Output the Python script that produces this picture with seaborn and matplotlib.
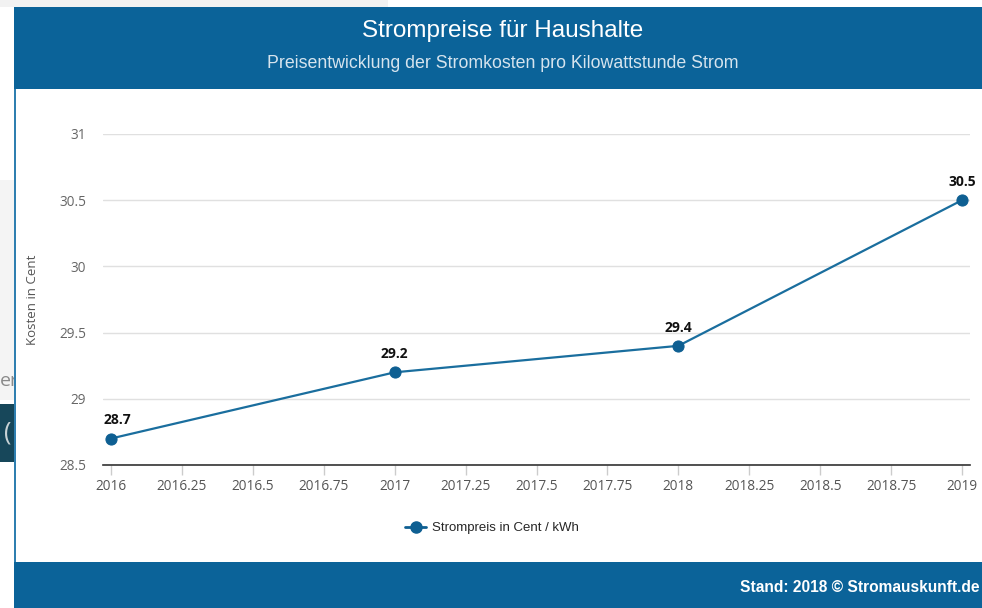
import matplotlib
matplotlib.use("Agg")
import matplotlib.pyplot as plt
import seaborn as sns
import pandas as pd
from matplotlib.patches import Rectangle
from matplotlib.lines import Line2D

years = [2016, 2017, 2018, 2019]
prices = [28.7, 29.2, 29.4, 30.5]
series_name = "Strompreis in Cent / kWh"
x_ticks = [2016, 2016.25, 2016.5, 2016.75, 2017, 2017.25, 2017.5, 2017.75,
           2018, 2018.25, 2018.5, 2018.75, 2019]
x_tick_labels = ["2016", "2016.25", "2016.5", "2016.75", "2017", "2017.25", "2017.5",
                 "2017.75", "2018", "2018.25", "2018.5", "2018.75", "2019"]
y_ticks = [28.5, 29, 29.5, 30, 30.5, 31]
y_tick_labels = ["28.5", "29", "29.5", "30", "30.5", "31"]

df = pd.DataFrame({"Jahr": years, "Preis": prices})

sns.set_theme(style="white")
plt.rcParams['font.family'] = ['Open Sans', 'DejaVu Sans']

W, H = 982, 608
fig = plt.figure(figsize=(W / 100, H / 100), dpi=100)
fig.patch.set_facecolor("white")

def fx(px):
    return px / W

def fy(py):
    return 1 - py / H

header_col = "#0b6399"
line_col = "#1a6e9e"
marker_col = "#0e5f92"

# screenshot remnants on the left
fig.add_artist(Rectangle((0, fy(7)), fx(388), 7 / H, transform=fig.transFigure,
                         facecolor="#f2f2f2", edgecolor="none", zorder=-5))
fig.add_artist(Rectangle((0, fy(400)), fx(14), (400 - 180) / H, transform=fig.transFigure,
                         facecolor="#f4f4f4", edgecolor="none", zorder=-5))
fig.add_artist(Rectangle((0, fy(462)), fx(14), (462 - 404) / H, transform=fig.transFigure,
                         facecolor="#17475a", edgecolor="none", zorder=-5))
fig.text(fx(0), fy(381), "er", fontsize=14, color="#8a8a8a", va="center", ha="left",
         family=["Open Sans", "DejaVu Sans"], zorder=-4)
fig.text(fx(4), fy(433), "(", fontsize=18, color="#c9d3d6", va="center", ha="left",
         family=["Open Sans", "DejaVu Sans"], zorder=-4)

# card
fig.add_artist(Rectangle((fx(14), fy(562)), 1 - fx(14), (562 - 89) / H, transform=fig.transFigure,
                         facecolor="white", edgecolor="none", zorder=-3))
fig.add_artist(Rectangle((fx(14), fy(562)), fx(2), (562 - 89) / H, transform=fig.transFigure,
                         facecolor="#2f7fb0", edgecolor="none", zorder=-2))
# header
fig.add_artist(Rectangle((fx(14), fy(89)), 1 - fx(14), (89 - 7) / H, transform=fig.transFigure,
                         facecolor=header_col, edgecolor="none", zorder=-2))
# footer
fig.add_artist(Rectangle((fx(14), 0), 1 - fx(14), (608 - 562) / H, transform=fig.transFigure,
                         facecolor=header_col, edgecolor="none", zorder=-2))

fig.text(fx(503), fy(31), "Strompreise für Haushalte", fontsize=17.5, color="white",
         ha="center", va="center", family=["Liberation Sans", "DejaVu Sans"])
fig.text(fx(503), fy(63), "Preisentwicklung der Stromkosten pro Kilowattstunde Strom",
         fontsize=12.8, color="#d6e4ee", ha="center", va="center",
         family=["Liberation Sans", "DejaVu Sans"])
fig.text(fx(980), fy(587), "Stand: 2018 © Stromauskunft.de", fontsize=11.2, color="white",
         ha="right", va="center", fontweight="bold", family=["Liberation Sans", "DejaVu Sans"])

ax = fig.add_axes([fx(103), fy(465), fx(970) - fx(103), (465 - 134) / H])
ax.set_facecolor("white")
sns.lineplot(data=df, x="Jahr", y="Preis", ax=ax, color=line_col, linewidth=1.6,
             marker="o", markersize=8, markerfacecolor=marker_col,
             markeredgecolor=marker_col, label=series_name, legend=False)

for i, (xv, yv) in enumerate(zip(years, prices)):
    dx = 4.5 if i == 0 else 0
    ax.annotate(f"{yv:g}", (xv, yv), xytext=(dx, 8), textcoords="offset points",
                ha="center", va="bottom", fontsize=10, fontweight="bold", color="#111111")

span = 3 * 8 / (962 - 111)
ax.set_xlim(2016 - span, 2019 + span)
ax.set_ylim(28.5, 31)
ax.set_xticks(x_ticks)
ax.set_xticklabels(x_tick_labels)
ax.set_yticks(y_ticks)
ax.set_yticklabels(y_tick_labels)
ax.yaxis.grid(True, color="#e0e0e0", linewidth=1)
ax.xaxis.grid(False)
for s in ["top", "right", "left"]:
    ax.spines[s].set_visible(False)
ax.spines["bottom"].set_color("#333333")
ax.spines["bottom"].set_linewidth(1.2)
ax.tick_params(axis="x", bottom=True, length=7, width=1, color="#cccccc", pad=3,
               labelsize=9.8, labelcolor="#555555")
ax.tick_params(axis="y", left=False, pad=6, labelsize=9.8, labelcolor="#666666")
ax.set_xlabel("")
ax.set_ylabel("Kosten in Cent", fontsize=9.5, color="#555555")
ax.yaxis.set_label_coords((39 - 103) / (970 - 103), 0.5)

handle = Line2D([], [], color=marker_col, linewidth=2, marker="o", markersize=8)
fig.legend(handles=[handle], labels=[series_name], loc="center", bbox_to_anchor=(fx(492), fy(528)),
           frameon=False, handlelength=1.6, handletextpad=0.4,
           prop={"family": ["Liberation Sans", "DejaVu Sans"], "size": 9.5})

fig.savefig("out.png", dpi=100, facecolor=fig.get_facecolor())
